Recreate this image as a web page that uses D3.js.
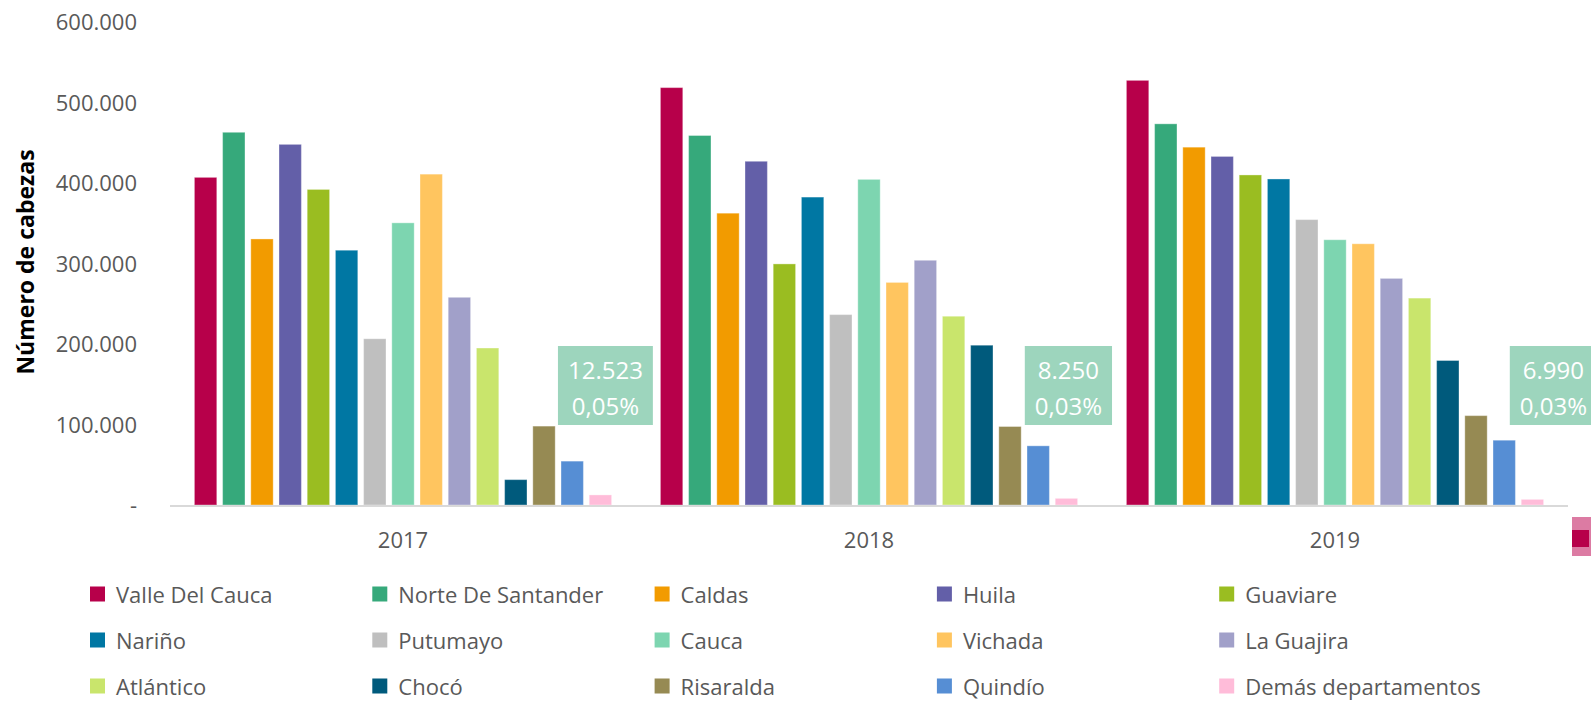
<!DOCTYPE html>
<html>
<head>
<meta charset="utf-8">
<script src="https://cdn.jsdelivr.net/npm/d3@7"></script>
<style>
  html, body { margin: 0; padding: 0; background: #fff; }
  svg { display: block; font-family: "Open Sans", "Noto Sans", sans-serif; }
</style>
</head>
<body>
<div id="chart" width="1591" height="702"></div>
<script>
// data
const years = ["2017", "2018", "2019"];
const departments = [
    "Valle Del Cauca", "Norte De Santander", "Caldas", "Huila", "Guaviare",
    "Nariño", "Putumayo", "Cauca", "Vichada", "La Guajira",
    "Atlántico", "Chocó", "Risaralda", "Quindío", "Demás departamentos"
];
const colors = [
    "#b7004a", "#36a97b", "#f29b00", "#635fa8", "#9abd21",
    "#0077a3", "#bfbfbf", "#7dd5b0", "#ffc55f", "#a1a0c9",
    "#c9e56c", "#005a7c", "#968a53", "#568ed4", "#ffbcd9"
];
const values_2017 = [407000, 463000, 330500, 448000, 392000, 316500, 206500, 350500, 411000, 258000, 195000, 31500, 98000, 54500, 12523];
const values_2018 = [518500, 459000, 362500, 427000, 299500, 382500, 236500, 404500, 276500, 304000, 234500, 198500, 97500, 73500, 8250];
const values_2019 = [527500, 473500, 444500, 433000, 410000, 405000, 354500, 329500, 324500, 281500, 257000, 179500, 111000, 80500, 6990];
const other_share = ["0,05%", "0,03%", "0,03%"];
const y_ticks = [0, 100000, 200000, 300000, 400000, 500000, 600000];

const values_by_year = [values_2017, values_2018, values_2019];

function draw_chart(id){
    const width = 1591;
    const height = 702;
    const text_color = "#595959";
    const font_size = 22;

    // plot area
    const plot_left = 170;
    const plot_right = 1568;
    const plot_top = 22;
    const plot_bottom = 505;

    const es = d3.formatLocale({decimal: ",", thousands: ".", grouping: [3], currency: ["$", ""]});
    const fmt = es.format(",.0f");

    const svg = d3.select(id).append("svg")
        .attr("width", width)
        .attr("height", height)
    ;

    // scales
    const x0 = d3.scaleBand()
        .domain(years)
        .range([plot_left, plot_right])
    ;
    const x1 = d3.scaleBand()
        .domain(departments)
        .range([0, x0.bandwidth()])
        .paddingInner(0.206)
        .paddingOuter(0.865)
    ;
    const y = d3.scaleLinear()
        .domain([0, 600000])
        .range([plot_bottom, plot_top])
    ;

    // y axis labels (no line, no ticks)
    const y_axis = svg.append("g")
        .attr("transform", "translate(137,0)")
        .call(d3.axisLeft(y)
            .tickValues(y_ticks)
            .tickSize(0)
            .tickPadding(0)
            .tickFormat(function(d){ return d === 0 ? "-" : fmt(d); }))
    ;
    y_axis.select(".domain").remove();
    y_axis.selectAll("text")
        .attr("fill", text_color)
        .attr("font-size", font_size)
        .attr("font-family", "Open Sans")
        .attr("dy", "0.35em")
    ;

    // y axis title
    svg.append("text")
        .text("Número de cabezas")
        .attr("transform", "translate(25," + 262 + ") rotate(-90)")
        .attr("text-anchor", "middle")
        .attr("dominant-baseline", "central")
        .attr("font-size", 23)
        .attr("font-weight", "bold")
        .attr("fill", "#000")
    ;

    // bars
    const groups = svg.selectAll("g.year")
        .data(years)
        .enter()
        .append("g")
        .attr("class", "year")
        .attr("transform", function(d){ return "translate(" + x0(d) + ",0)"; })
    ;
    groups.selectAll("rect")
        .data(function(d, i){
            return departments.map(function(dep, j){
                return {dep: dep, value: values_by_year[i][j], color: colors[j]};
            });
        })
        .enter()
        .append("rect")
        .attr("x", function(d){ return x1(d.dep); })
        .attr("y", function(d){ return y(d.value); })
        .attr("width", x1.bandwidth())
        .attr("height", function(d){ return y(0) - y(d.value); })
        .attr("fill", function(d){ return d.color; })
        .attr("stroke", "#fff")
        .attr("stroke-opacity", 0.35)
        .attr("stroke-width", 1)
    ;

    // baseline
    svg.append("line")
        .attr("x1", plot_left)
        .attr("x2", plot_right)
        .attr("y1", y(0) + 1)
        .attr("y2", y(0) + 1)
        .attr("stroke", "#d9d9d9")
        .attr("stroke-width", 2)
    ;

    // category labels
    svg.selectAll("text.year_label")
        .data(years)
        .enter()
        .append("text")
        .attr("class", "year_label")
        .text(function(d){ return d; })
        .attr("x", function(d){ return x0(d) + x0.bandwidth() / 2; })
        .attr("y", 539)
        .attr("dominant-baseline", "central")
        .attr("text-anchor", "middle")
        .attr("font-size", font_size)
        .attr("fill", text_color)
    ;

    // labels for "Demás departamentos"
    const last = departments[departments.length - 1];
    const label_shift = [5, 2, 21];
    const box_top = y(200000) + 2;
    years.forEach(function(yr, i){
        const cx = x0(yr) + x1(last) + x1.bandwidth() / 2 + label_shift[i];
        const g = svg.append("g");
        const rect = g.append("rect")
            .attr("fill", "#9dd5bd")
        ;
        const t1 = g.append("text")
            .text(fmt(values_by_year[i][departments.length - 1]))
            .attr("x", cx)
            .attr("y", box_top + 23)
            .attr("text-anchor", "middle")
            .attr("dominant-baseline", "central")
            .attr("font-size", 24)
            .attr("fill", "#fff")
        ;
        const t2 = g.append("text")
            .text(other_share[i])
            .attr("x", cx)
            .attr("y", box_top + 59)
            .attr("text-anchor", "middle")
            .attr("dominant-baseline", "central")
            .attr("font-size", 24)
            .attr("fill", "#fff")
        ;
        const w = Math.max(t1.node().getComputedTextLength(), t2.node().getComputedTextLength()) + 20;
        rect.attr("x", cx - w / 2)
            .attr("y", box_top)
            .attr("width", w)
            .attr("height", 79)
        ;
    });

    // selected legend key remnant at the right edge
    svg.append("rect")
        .attr("x", 1572).attr("y", 517).attr("width", 19).attr("height", 39)
        .attr("fill", "#dc7ba3")
    ;
    svg.append("rect")
        .attr("x", 1572).attr("y", 530).attr("width", 17).attr("height", 17)
        .attr("fill", colors[0])
    ;

    // legend
    const legend = svg.selectAll("g.legend")
        .data(departments)
        .enter()
        .append("g")
        .attr("class", "legend")
        .attr("transform", function(d, i){
            return "translate(" + (90 + (i % 5) * 282.3) + "," + (594 + Math.floor(i / 5) * 46) + ")";
        })
    ;
    legend.append("rect")
        .attr("x", 0)
        .attr("y", -7.5)
        .attr("width", 15)
        .attr("height", 15)
        .attr("fill", function(d, i){ return colors[i]; })
    ;
    legend.append("text")
        .text(function(d){ return d; })
        .attr("x", 26)
        .attr("y", 0)
        .attr("dominant-baseline", "central")
        .attr("font-size", font_size)
        .attr("fill", text_color)
    ;
}

draw_chart("#chart");
</script>
</body>
</html>
